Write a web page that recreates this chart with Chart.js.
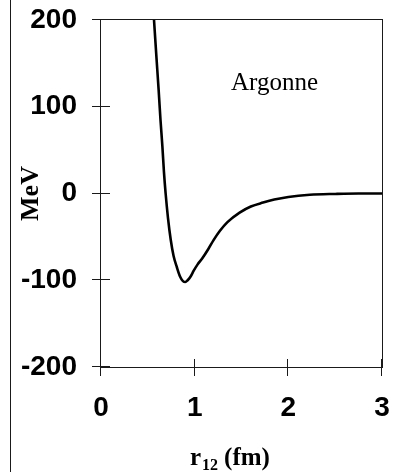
<!DOCTYPE html>
<html>
<head>
<meta charset="utf-8">
<script src="https://cdn.jsdelivr.net/npm/chart.js@4.4.1/dist/chart.umd.min.js"></script>
<style>
  html, body { margin: 0; padding: 0; background: #fff; }
  #wrap { width: 400px; height: 472px; }
</style>
</head>
<body>
<div id="wrap"><canvas id="c" width="400" height="472"></canvas></div>
<script>
// Argonne potential, r12 in fm, V in MeV
const r12 = [0.566, 0.59, 0.615, 0.635, 0.655, 0.672, 0.69, 0.715, 0.744, 0.775, 0.81, 0.845, 0.875, 0.90, 0.925, 0.955, 0.99, 1.03, 1.08, 1.146, 1.2, 1.27, 1.35, 1.48, 1.6, 1.73, 1.85, 2.0, 2.23, 2.5, 2.75, 3.0];
const potential = [200, 160, 120, 85, 55, 25, 0, -28, -53, -72, -85, -96, -101, -102, -100, -96, -89, -82, -75, -64, -54, -43, -33, -22, -15, -10.5, -7, -4, -1.5, -0.5, 0, 0];
const xTicks = [0, 1, 2, 3];
const yTicks = [-200, -100, 0, 100, 200];
const seriesLabel = 'Argonne';
const xTitle = { base: 'r', sub: '12', rest: '(fm)' };
const yTitle = 'MeV';

const points = r12.map((r, i) => ({ x: r, y: potential[i] }));

const framePlugin = {
  id: 'frame',
  afterDraw(chart) {
    const { ctx, chartArea: { left, right, top, bottom }, scales: { x, y } } = chart;
    ctx.save();
    ctx.strokeStyle = '#1a1a1a';
    ctx.lineWidth = 1;
    // outer left border line of the figure
    ctx.beginPath();
    ctx.moveTo(10.5, 0);
    ctx.lineTo(10.5, chart.height);
    ctx.stroke();
    // plot box
    ctx.strokeRect(left - 0.5, top - 0.5, right - left + 1, bottom - top + 1);
    // tick marks crossing the axes
    ctx.beginPath();
    yTicks.forEach(v => {
      const py = Math.round(y.getPixelForValue(v)) - 0.5;
      ctx.moveTo(left - 9, py);
      ctx.lineTo(left + 9, py);
    });
    xTicks.forEach(v => {
      const px = Math.round(x.getPixelForValue(v)) - 0.5;
      ctx.moveTo(px, bottom - 8);
      ctx.lineTo(px, bottom + 9);
    });
    ctx.stroke();
    // annotation
    ctx.fillStyle = '#000';
    ctx.textBaseline = 'alphabetic';
    ctx.textAlign = 'left';
    ctx.font = '25px "Liberation Serif", "Times New Roman", serif';
    ctx.fillText(seriesLabel, 231, 90);
    // x axis title with subscript
    const bigFont = 'bold 25px "Liberation Serif", "Times New Roman", serif';
    const smallFont = 'bold 16px "Liberation Serif", "Times New Roman", serif';
    let cx = 190;
    ctx.font = bigFont;
    ctx.fillText(xTitle.base, cx, 465);
    cx += ctx.measureText(xTitle.base).width + 1;
    ctx.font = smallFont;
    ctx.fillText(xTitle.sub, cx, 470);
    cx += ctx.measureText(xTitle.sub).width + 6;
    ctx.font = bigFont;
    ctx.fillText(xTitle.rest, cx, 465);
    ctx.restore();
  }
};

new Chart(document.getElementById('c'), {
  type: 'scatter',
  data: {
    datasets: [{
      label: seriesLabel,
      data: points,
      showLine: true,
      borderColor: '#000',
      borderWidth: 2.6,
      pointRadius: 0,
      cubicInterpolationMode: 'monotone',
      fill: false
    }]
  },
  options: {
    responsive: false,
    animation: false,
    devicePixelRatio: 1,
    layout: { padding: { left: 0, top: 20, right: 18, bottom: 0 } },
    plugins: { legend: { display: false }, tooltip: { enabled: false } },
    scales: {
      x: {
        type: 'linear',
        min: 0, max: 3,
        afterBuildTicks(scale) { scale.ticks = xTicks.map(v => ({ value: v })); },
        afterFit(scale) {
          scale.height = 105;
          scale.paddingLeft = 0; scale.paddingRight = 0;
          scale.paddingTop = 0; scale.paddingBottom = 0;
        },
        grid: { display: false, drawTicks: false },
        border: { display: false },
        ticks: {
          color: '#000',
          padding: 24,
          font: { family: '"Liberation Sans", Arial, sans-serif', size: 28, weight: 'bold' }
        }
      },
      y: {
        type: 'linear',
        min: -200, max: 200,
        afterBuildTicks(scale) { scale.ticks = yTicks.map(v => ({ value: v })); },
        afterFit(scale) {
          scale.width = 101;
          scale.paddingLeft = 0; scale.paddingRight = 0;
          scale.paddingTop = 0; scale.paddingBottom = 0;
        },
        grid: { display: false, drawTicks: false },
        border: { display: false },
        title: {
          display: true,
          text: yTitle,
          color: '#000',
          padding: { top: 16, bottom: 0 },
          font: { family: '"Liberation Serif", "Times New Roman", serif', size: 26, weight: 'bold' }
        },
        ticks: {
          color: '#000',
          padding: 24,
          font: { family: '"Liberation Sans", Arial, sans-serif', size: 28, weight: 'bold' }
        }
      }
    }
  },
  plugins: [framePlugin]
});
</script>
</body>
</html>
